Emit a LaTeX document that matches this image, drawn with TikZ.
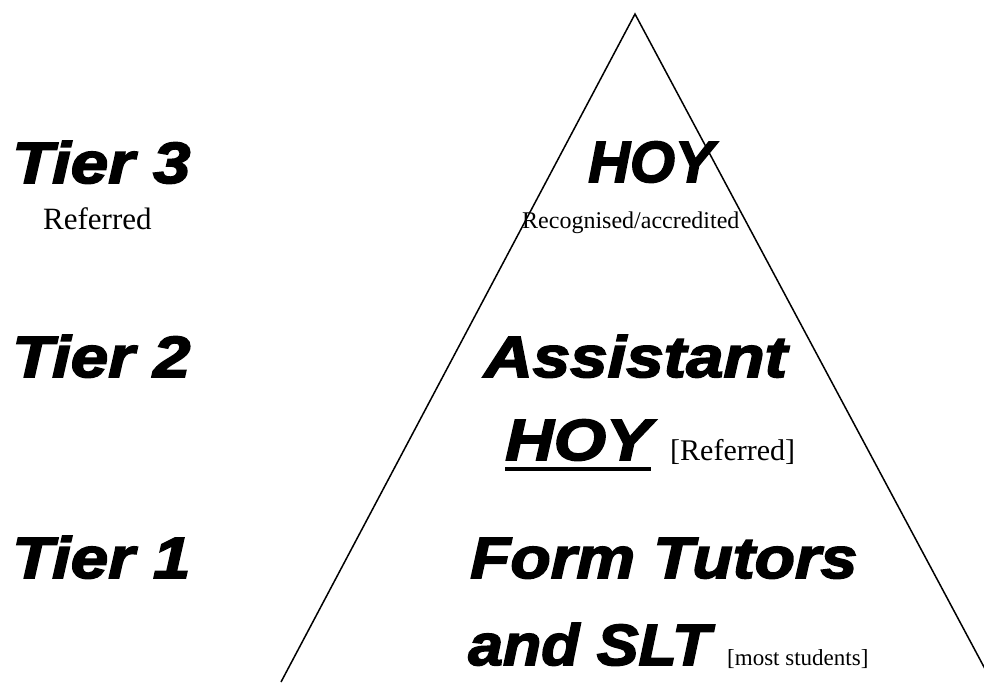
\documentclass[tikz,border=0pt]{standalone}
\usepackage{fontspec}
\setmainfont{Liberation Serif}
\newfontfamily\heavy{Liberation Sans}[FakeBold=3,FakeStretch=1.16]
\tikzset{
  big/.style={font=\heavy\bfseries\itshape\fontsize{58}{60}\selectfont, inner sep=0pt, anchor=base west},
  note/.style={inner sep=0pt, anchor=base west},
  edge/.style={line width=1.5pt, line join=miter}
}
\begin{document}
\begin{tikzpicture}[x=1pt,y=-1pt]
\useasboundingbox (0,0) rectangle (984,682);
% pyramid
\coordinate (apex) at (635,14);
\coordinate (bl) at (281,682);
\coordinate (br) at (992,682);
\begin{scope}
  \clip (0,0) rectangle (984,682);
  \draw[edge] (bl) -- (apex) -- (br);
\end{scope}
% left labels
\node[big] (t3) at (12,183) {Tier 3};
\node[note, font=\fontsize{31}{33}\selectfont] (r3) at (43,229) {Referred};
\node[big] (t2) at (12,377) {Tier 2};
\node[big] (t1) at (12,578) {Tier 1};
% pyramid labels
\node[big] (hoy1) at (588,182) {\scalebox{0.86}[1]{HOY}};
\node[note, font=\fontsize{24}{26}\selectfont] (rec) at (522,228) {Recognised/accredited};
\node[big] (asst) at (484,377) {Assistant};
\node[big] (hoy2) at (505,460) {HOY};
\draw[line width=4pt] ([yshift=-9pt]hoy2.base west) -- ([yshift=-9pt]hoy2.base east);
\node[note, font=\fontsize{30}{32}\selectfont] (refd) at (670,460) {[Referred]};
\node[big] (ft) at (470,578) {\scalebox{0.98}[1]{Form Tutors}};
\node[big] (slt) at (468,665) {\scalebox{0.93}[1]{and SLT}};
\node[note, font=\fontsize{23}{25}\selectfont] (most) at (727,665) {[most students]};
\end{tikzpicture}
\end{document}
